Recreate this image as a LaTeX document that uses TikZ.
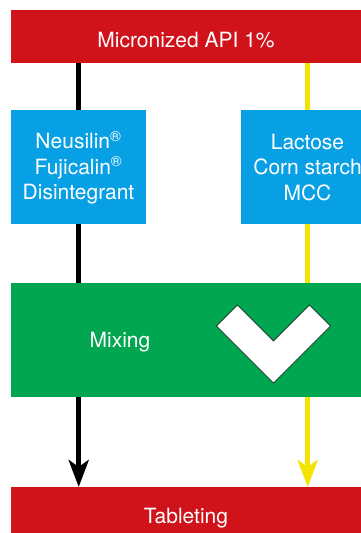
\documentclass[tikz,border=0pt]{standalone}
\usepackage{fontspec}
\setmainfont{TeX Gyre Heros}
\usetikzlibrary{arrows.meta}
\definecolor{boxred}{RGB}{208,19,27}
\definecolor{boxblue}{RGB}{8,160,228}
\definecolor{boxgreen}{RGB}{0,166,80}
\definecolor{lineyellow}{RGB}{240,228,0}
\tikzset{
  box/.style={draw=none, rectangle, inner sep=0pt, anchor=north west},
  lbl/.style={text=white, font=\fontsize{21}{25.5}\selectfont, align=center, inner sep=0pt},
  blackline/.style={line width=5pt, draw=black},
  yellowline/.style={line width=5pt, draw=lineyellow},
  tip/.style={-{Stealth[length=27pt,width=20pt,inset=7pt]}},
}
\begin{document}
\begin{tikzpicture}[x=1pt,y=-1pt]
\useasboundingbox (0,0) rectangle (361,533);
\clip (0,0) rectangle (361,533);
% boxes
\node[box, fill=boxred, minimum width=350pt, minimum height=53pt] (top) at (11,10) {};
\node[box, fill=boxblue, minimum width=135pt, minimum height=114pt] (blueA) at (11,110) {};
\node[box, fill=boxblue, minimum width=133pt, minimum height=114pt] (blueB) at (241,110) {};
\node[box, fill=boxgreen, minimum width=350pt, minimum height=114pt] (mix) at (11,283) {};
\node[box, fill=boxred, minimum width=350pt, minimum height=60pt] (tab) at (11,487) {};
% connectors
\draw[blackline] (top.south -| blueA) -- (blueA.north);
\draw[blackline] (blueA.south) -- (mix.north -| blueA);
\draw[blackline, tip] (mix.south -| blueA) -- (tab.north -| blueA);
\draw[yellowline] (top.south -| blueB) -- (blueB.north);
\draw[yellowline] (blueB.south) -- (mix.north -| blueB);
\draw[yellowline, tip] (mix.south -| blueB) -- (tab.north -| blueB);
% check mark
\draw[fill=white, draw=black, line width=0.6pt]
  (216.5,326) -- (237.5,305) -- (273.5,341) -- (309.5,305) -- (330.5,326) -- (273.5,383) -- cycle;
% texts
\node[lbl, anchor=base] (tTop) at (186,47) {Micronized API 1\%};
\node[lbl, anchor=center] (tA) at (78.5,168) {Neusilin\textsuperscript{®}\\Fujicalin\textsuperscript{®}\\Disintegrant};
\node[lbl, anchor=center] (tB) at (307.5,167.5) {Lactose\\Corn starch\\MCC};
\node[lbl, anchor=base] (tMix) at (120,347) {Mixing};
\node[lbl, anchor=base] (tTab) at (186,523) {Tableting};
\end{tikzpicture}
\end{document}
